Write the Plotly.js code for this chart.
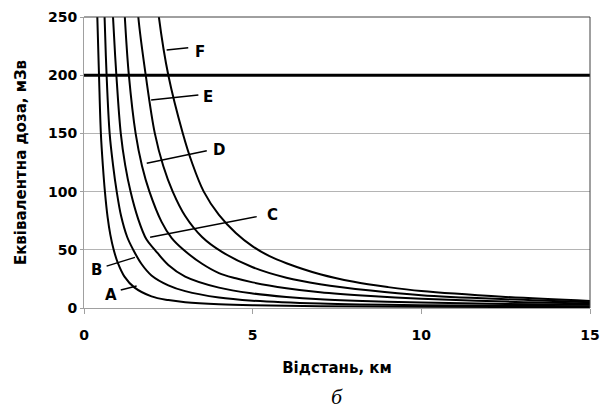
<!DOCTYPE html>
<html>
<head>
<meta charset="utf-8">
<script src="https://cdn.plot.ly/plotly-3.0.1.min.js"></script>
<style>
html,body{margin:0;padding:0;background:#fff;}
#chart{width:602px;height:411px;}
</style>
</head>
<body>
<div id="chart"></div>
<script>
// Distance, km and equivalent dose, mSv
const seriesNames = ["A", "B", "C", "D", "E", "F"];
const xA = [0.36, 0.395, 0.445, 0.50, 0.56, 0.62, 0.7, 0.78, 0.88, 1.0, 1.2, 1.5, 2.0, 2.5, 3.0, 4.0, 5.0, 7.0, 10, 15];
const yA = [300, 250, 200, 150, 122, 100, 78, 63, 50, 39, 27, 17.5, 10, 6.8, 5, 3.2, 2.3, 1.5, 1, 0.7];
const xB = [0.56, 0.61, 0.67, 0.76, 0.86, 0.97, 1.1, 1.28, 1.46, 1.7, 2.0, 2.5, 3.0, 4.0, 5.0, 7.0, 10, 15];
const yB = [297, 250, 200, 150, 123, 100, 79, 61, 50, 38, 28, 19.5, 14.5, 9, 6.3, 3.8, 2.3, 1.4];
const xC = [0.80, 0.86, 0.96, 1.09, 1.22, 1.38, 1.6, 1.85, 2.1, 2.5, 3.0, 4.0, 5.0, 6.0, 7.0, 8.5, 10, 12.5, 15];
const yC = [295, 250, 200, 150, 123, 100, 77, 59, 50, 37, 27, 17.5, 12.5, 9.5, 7.5, 5.8, 4.7, 3.5, 2.8];
const xD = [1.13, 1.21, 1.33, 1.53, 1.72, 1.94, 2.3, 2.6, 2.95, 3.5, 4.0, 4.5, 5.0, 6.0, 7.0, 8.5, 10, 12.5, 15];
const yD = [295, 250, 200, 150, 122, 100, 74, 60, 50, 38, 30, 25.5, 22, 17, 13.5, 10.3, 8, 5.5, 4];
const xE = [1.50, 1.61, 1.83, 2.10, 2.35, 2.63, 3.0, 3.5, 4.1, 5.0, 6.0, 7.0, 8.5, 10, 12.5, 15];
const yE = [300, 250, 200, 150, 122, 100, 79, 61, 48, 35, 26, 20.5, 15, 11, 7.5, 5];
const xF = [2.05, 2.22, 2.50, 2.93, 3.2, 3.55, 4.0, 4.5, 5.0, 5.5, 6.0, 7.0, 8.0, 9.0, 10, 12.5, 15];
const yF = [300, 250, 200, 150, 125, 100, 80, 64.5, 53, 44.5, 38.5, 29, 22.5, 18, 14.5, 9.5, 6];
const limitX = [0, 15];
const limitY = [200, 200];

// label texts and where they sit, with leader line ends
const labelText = ["A", "B", "C", "D", "E", "F"];
const labelX = [0.80, 0.38, 5.59, 4.01, 3.69, 3.44];
const labelY = [11.2, 32.6, 79.9, 135.7, 181.5, 220];
const leadX0 = [1.09, 0.67, 1.96, 1.86, 1.99, 2.45];
const leadY0 = [15.5, 36, 60.7, 124.3, 178.7, 221.6];
const leadX1 = [1.56, 1.51, 5.12, 3.64, 3.39, 3.09];
const leadY1 = [18.9, 43.5, 78.5, 135.1, 183, 223.6];

const xs = [xA, xB, xC, xD, xE, xF];
const ys = [yA, yB, yC, yD, yE, yF];

const traces = xs.map((x, i) => ({
  x: x, y: ys[i], name: seriesNames[i], type: "scatter", mode: "lines",
  line: {color: "#000", width: 2, shape: "spline", smoothing: 1},
  hoverinfo: "skip"
}));
traces.push({
  x: limitX, y: limitY, type: "scatter", mode: "lines",
  line: {color: "#000", width: 3}, hoverinfo: "skip"
});

const shapes = labelText.map((t, i) => ({
  type: "line", xref: "x", yref: "y",
  x0: leadX0[i], y0: leadY0[i], x1: leadX1[i], y1: leadY1[i],
  line: {color: "#000", width: 1.5}
}));
shapes.push({type: "line", xref: "paper", yref: "paper", x0: 0, y0: 1, x1: 1, y1: 1,
  line: {color: "#404040", width: 1}});
shapes.push({type: "line", xref: "paper", yref: "paper", x0: 1, y0: 0, x1: 1, y1: 1,
  line: {color: "#404040", width: 1}});

const FONT = "'DejaVu Sans', Verdana, sans-serif";
const annotations = labelText.map((t, i) => ({
  x: labelX[i], y: labelY[i], xref: "x", yref: "y", text: t, showarrow: false,
  font: {family: FONT, size: 15, color: "#000", weight: "bold"},
  xanchor: "center", yanchor: "middle"
}));
annotations.push({
  x: 0.5, y: -0.305, xref: "paper", yref: "paper", text: "<i>б</i>", showarrow: false,
  font: {family: "'Liberation Serif', 'DejaVu Serif', serif", size: 22, color: "#000"},
  xanchor: "center", yanchor: "middle"
});

const layout = {
  width: 602, height: 411,
  margin: {l: 84, r: 12, t: 17, b: 103},
  paper_bgcolor: "#fff", plot_bgcolor: "#fff",
  showlegend: false,
  font: {family: FONT, color: "#000"},
  xaxis: {
    range: [0, 15], tickvals: [0, 5, 10, 15], ticktext: ["0", "5", "10", "15"],
    showgrid: false, zeroline: false, showline: true, linecolor: "#a0a0a0", linewidth: 1,
    ticks: "outside", ticklen: 5, tickcolor: "#a0a0a0", ticklabelstandoff: 9,
    tickfont: {family: FONT, size: 14, weight: "bold", color: "#000"},
    title: {text: "Відстань, км", font: {family: FONT, size: 15, weight: "bold", color: "#000"}, standoff: 20}
  },
  yaxis: {
    range: [0, 250], tickvals: [0, 50, 100, 150, 200, 250],
    showgrid: true, gridcolor: "#b4b4b4", gridwidth: 1, zeroline: false,
    showline: true, linecolor: "#a0a0a0", linewidth: 1,
    ticks: "outside", ticklen: 3, tickcolor: "#a0a0a0",
    tickfont: {family: FONT, size: 14, weight: "bold", color: "#000"},
    title: {text: "Еквівалентна доза, мЗв", font: {family: FONT, size: 15, weight: "bold", color: "#000"}, standoff: 17}
  },
  shapes: shapes,
  annotations: annotations
};

Plotly.newPlot("chart", traces, layout, {displayModeBar: false, staticPlot: true});
</script>
</body>
</html>
